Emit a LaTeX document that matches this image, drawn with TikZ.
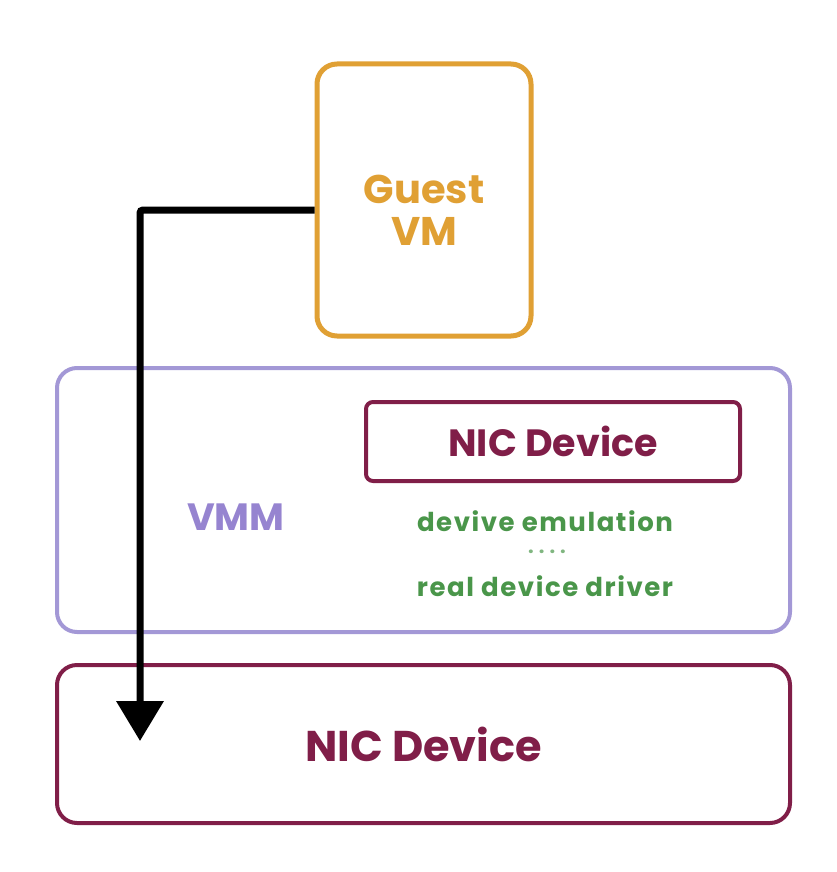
\documentclass[tikz,border=0pt]{standalone}
\usepackage{fontspec}
\setmainfont{Poppins}
\usetikzlibrary{arrows.meta,positioning}
\definecolor{guestorange}{RGB}{224,160,52}
\definecolor{vmmpurple}{RGB}{163,152,214}
\definecolor{vmmtext}{RGB}{150,132,208}
\definecolor{nicmaroon}{RGB}{128,30,72}
\definecolor{emugreen}{RGB}{74,150,74}
\tikzset{
	guestbox/.style={
		rectangle,
		rounded corners=20pt,
		draw=guestorange,
		line width=5pt,
		minimum width=214pt,
		minimum height=272pt,
	},
	layerbox/.style={
		rectangle,
		rounded corners=20pt,
		line width=4pt,
		minimum width=733pt,
	},
	nicbox/.style={
		rectangle,
		draw=nicmaroon,
		line width=4pt,
		text=nicmaroon,
	},
	emu/.style={
		text=emugreen,
		font=\fontsize{26}{28}\selectfont\bfseries\addfontfeatures{LetterSpace=6},
	},
	flow/.style={
		-{Triangle[width=46pt,length=40pt]},
		line width=7pt,
		rounded corners=3pt,
	},
}
\begin{document}
\begin{tikzpicture}[x=1pt,y=-1pt]
	\useasboundingbox (0,0) rectangle (836,872);

	\node [guestbox] (guest) at (424,200) {};
	\node [
	  align=center,
	  text=guestorange,
	  font=\fontsize{40}{42}\selectfont\bfseries,
	] (guestlabel) at (424,210) {Guest\\VM};

	\node [
	  layerbox,
	  draw=vmmpurple,
	  minimum height=264pt,
	] (vmm) at (423.5,500) {};
	\node [
	  text=vmmtext,
	  font=\fontsize{38}{40}\selectfont\bfseries,
	] (vmmlabel) at (236,517) {VMM};

	\node [
	  nicbox,
	  rounded corners=7pt,
	  minimum width=374pt,
	  minimum height=79pt,
	  font=\fontsize{38}{40}\selectfont\bfseries,
	] (vnic) at (553,441.5) {NIC Device};

	\node [emu] (emul) at (545,521) {devive emulation};
	\node [
	  emu,
	  text=emugreen!70,
	  font=\fontsize{20}{22}\selectfont\bfseries\addfontfeatures{LetterSpace=25},
	] (dots) at (547,552) {....};
	\node [emu] (driver) at (545,586) {real device driver};

	\node [
	  nicbox,
	  layerbox,
	  minimum height=158pt,
	  font=\fontsize{43}{45}\selectfont\bfseries,
	] (hwnic) at (423.5,744) {NIC Device};

	\coordinate (tip) at (140,741);
	\draw[flow] ([yshift=-10pt]guest.west) -| (tip);
\end{tikzpicture}
\end{document}
